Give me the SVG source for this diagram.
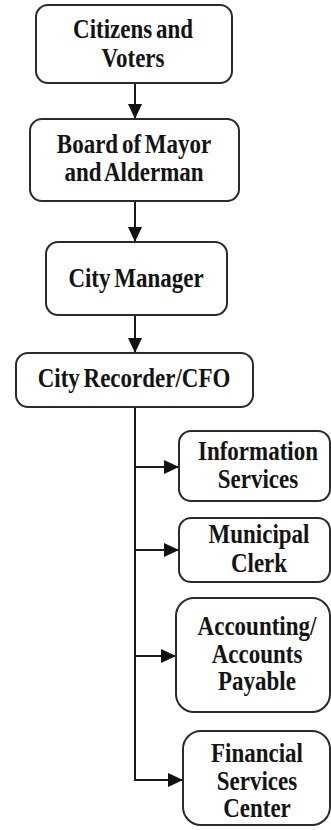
<svg xmlns="http://www.w3.org/2000/svg" width="331" height="830" viewBox="0 0 331 830">
<style>
.box{fill:#fff;stroke:#2b2b2b;stroke-width:2}
.t{font-family:"Liberation Serif","Times New Roman",serif;font-weight:bold;font-size:23px;fill:#141414;text-anchor:middle;word-spacing:-2px}
.c{fill:none;stroke:#1a1a1a;stroke-width:2}
</style>
<defs>
<marker id="ah" markerUnits="userSpaceOnUse" markerWidth="15" markerHeight="14" viewBox="0 0 15 14" refX="15" refY="7" orient="auto">
<path d="M0,0 L15,7 L0,14 z" fill="#111"/>
</marker>
</defs>
<rect width="331" height="830" fill="#fff"/>
<g id="connectors">
<line class="c" x1="135" y1="83" x2="135" y2="119" marker-end="url(#ah)"/>
<line class="c" x1="135" y1="201" x2="135" y2="242" marker-end="url(#ah)"/>
<line class="c" x1="135" y1="315" x2="135" y2="353" marker-end="url(#ah)"/>
<line class="c" x1="135" y1="407" x2="135" y2="781"/>
<line class="c" x1="134" y1="467" x2="179" y2="467" marker-end="url(#ah)"/>
<line class="c" x1="134" y1="550" x2="179" y2="550" marker-end="url(#ah)"/>
<line class="c" x1="134" y1="656" x2="176" y2="656" marker-end="url(#ah)"/>
<line class="c" x1="134" y1="780" x2="183" y2="780" marker-end="url(#ah)"/>
</g>
<g id="citizens">
<rect class="box" x="36" y="5" width="196" height="78" rx="12"/>
<text class="t" transform="translate(133,38) scale(1,1.15)">Citizens and</text>
<text class="t" transform="translate(133,67) scale(1,1.15)">Voters</text>
</g>
<g id="board">
<rect class="box" x="30" y="119" width="209" height="82" rx="12"/>
<text class="t" transform="translate(134,153) scale(1,1.15)">Board of Mayor</text>
<text class="t" transform="translate(134,181) scale(1,1.15)">and Alderman</text>
</g>
<g id="manager">
<rect class="box" x="46" y="242" width="181" height="73" rx="12"/>
<text class="t" transform="translate(136,287) scale(1,1.15)">City Manager</text>
</g>
<g id="recorder">
<rect class="box" x="16" y="353" width="237" height="54" rx="12"/>
<text class="t" transform="translate(134,387) scale(1,1.15)">City Recorder/CFO</text>
</g>
<g id="info">
<rect class="box" x="179" y="431" width="151" height="70" rx="12"/>
<text class="t" transform="translate(258,460) scale(1,1.15)">Information</text>
<text class="t" transform="translate(258,488) scale(1,1.15)">Services</text>
</g>
<g id="clerk">
<rect class="box" x="179" y="518" width="151" height="64" rx="12"/>
<text class="t" transform="translate(259,543) scale(1,1.15)">Municipal</text>
<text class="t" transform="translate(259,572) scale(1,1.15)">Clerk</text>
</g>
<g id="accounting">
<rect class="box" x="176" y="598" width="154" height="114" rx="18"/>
<text class="t" transform="translate(257,635) scale(1,1.15)">Accounting/</text>
<text class="t" transform="translate(257,663) scale(1,1.15)">Accounts</text>
<text class="t" transform="translate(257,690) scale(1,1.15)">Payable</text>
</g>
<g id="financial">
<rect class="box" x="183" y="731" width="147" height="94" rx="18"/>
<text class="t" transform="translate(257,762) scale(1,1.15)">Financial</text>
<text class="t" transform="translate(257,790) scale(1,1.15)">Services</text>
<text class="t" transform="translate(257,817) scale(1,1.15)">Center</text>
</g>
</svg>
